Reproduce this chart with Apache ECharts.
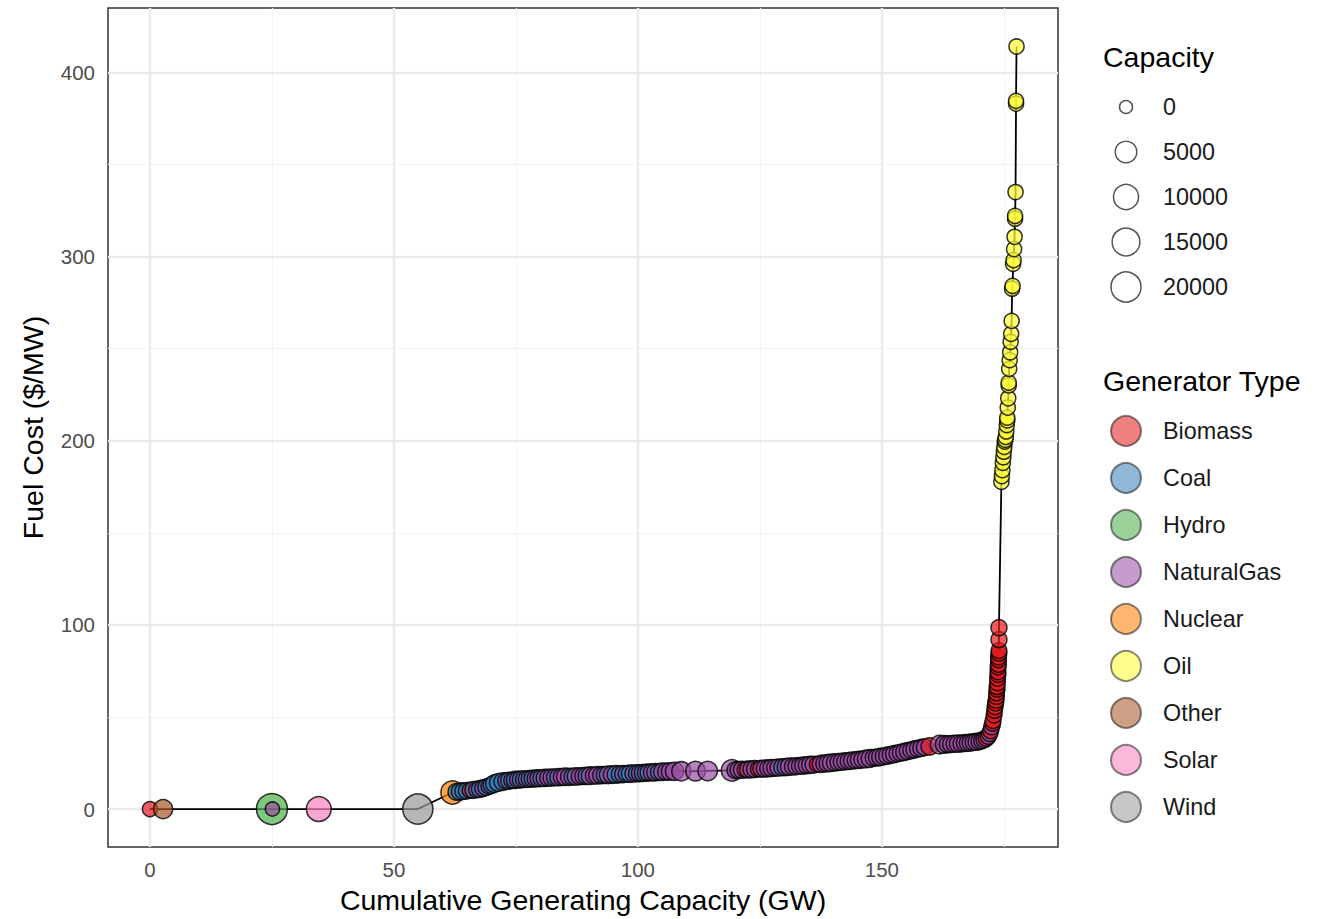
<!DOCTYPE html>
<html>
<head>
<meta charset="utf-8">
<script src="https://cdn.jsdelivr.net/npm/echarts@6/dist/echarts.min.js"></script>
<style>
  html, body { margin: 0; padding: 0; background: #fff; }
  #chart { width: 1325px; height: 919px; }
</style>
</head>
<body>
<div id="chart"></div>
<script>
// merit order: each point = one generator, x = cumulative capacity (GW), y = fuel cost
const genTypes = ['Biomass', 'Coal', 'Hydro', 'NaturalGas', 'Nuclear', 'Oil', 'Other', 'Solar', 'Wind'];
const typeCode = { B: 'Biomass', C: 'Coal', H: 'Hydro', G: 'NaturalGas', N: 'Nuclear', O: 'Oil', T: 'Other', S: 'Solar', W: 'Wind' };

const cumGW = [
  0.0, 2.7, 25.0, 25.1, 34.6, 54.9, 62.0, 62.8, 63.5, 64.2,
  64.9, 65.6, 66.3, 67.0, 67.6, 68.3, 68.9, 69.5, 70.0, 70.6,
  71.4, 72.3, 73.0, 73.6, 74.2, 74.8, 75.4, 76.0, 76.6, 77.2,
  77.8, 78.4, 79.0, 79.6, 80.2, 80.9, 81.6, 82.3, 83.0, 83.7,
  84.4, 85.1, 85.9, 86.6, 87.3, 88.1, 88.8, 89.5, 90.2, 91.0,
  91.7, 92.5, 93.2, 93.9, 94.7, 95.5, 96.3, 97.0, 97.7, 98.4,
  99.1, 99.8, 100.4, 101.0, 101.6, 102.2, 102.9, 103.6, 104.3, 105.0,
  105.8, 106.6, 107.5, 108.9, 111.8, 114.3, 119.3, 120.0, 120.6, 121.3,
  122.0, 122.6, 123.3, 124.0, 124.7, 125.3, 126.0, 126.7, 127.4, 128.1,
  128.8, 129.6, 130.3, 131.0, 131.8, 132.5, 133.2, 133.9, 134.6, 135.3,
  136.0, 136.8, 137.5, 138.2, 138.9, 139.6, 140.4, 141.1, 141.8, 142.5,
  143.2, 143.9, 144.6, 145.3, 146.0, 146.8, 147.6, 148.3, 149.0, 149.7,
  150.4, 151.1, 151.8, 152.5, 153.2, 153.9, 154.6, 155.3, 156.0, 156.7,
  157.4, 158.1, 158.8, 159.8, 161.8, 162.8, 163.5, 164.2, 164.9, 165.6,
  166.3, 167.0, 167.6, 168.2, 168.8, 169.4, 170.0, 170.5, 171.0, 171.4,
  171.8, 172.1, 172.3, 172.5, 172.7, 172.8, 173.0, 173.1, 173.2, 173.3,
  173.4, 173.5, 173.5, 173.6, 173.6, 173.7, 173.7, 173.8, 173.8, 173.8,
  173.9, 173.9, 173.9, 174.0, 174.0, 174.0, 174.0, 174.5, 174.6, 174.7,
  174.8, 174.9, 175.0, 175.1, 175.2, 175.3, 175.4, 175.5, 175.6, 175.7,
  175.7, 175.8, 175.9, 176.0, 176.0, 176.1, 176.2, 176.3, 176.4, 176.5,
  176.6, 176.7, 176.8, 176.9, 177.0, 177.1, 177.2, 177.3, 177.3, 177.4,
  177.5, 177.5, 177.6
];

const fuelCost = [
  0, 0, 0, 0, 0, 0, 9.0, 9.3, 9.5, 9.7,
  9.9, 10.2, 10.4, 10.6, 10.9, 11.3, 11.8, 12.4, 13.0, 13.8,
  14.4, 14.9, 15.2, 15.4, 15.6, 15.8, 16.0, 16.1, 16.2, 16.3,
  16.4, 16.5, 16.6, 16.7, 16.8, 16.9, 17.0, 17.1, 17.2, 17.3,
  17.4, 17.5, 17.5, 17.6, 17.7, 17.8, 17.9, 18.0, 18.1, 18.2,
  18.3, 18.4, 18.5, 18.6, 18.7, 18.8, 18.9, 19.0, 19.1, 19.2,
  19.3, 19.4, 19.5, 19.6, 19.7, 19.8, 19.9, 20.0, 20.1, 20.2,
  20.3, 20.4, 20.5, 20.5, 20.6, 20.7, 21.0, 21.1, 21.2, 21.3,
  21.4, 21.5, 21.6, 21.7, 21.8, 21.9, 22.0, 22.1, 22.3, 22.4,
  22.5, 22.7, 22.8, 23.0, 23.1, 23.3, 23.4, 23.6, 23.8, 24.0,
  24.1, 24.3, 24.5, 24.7, 24.9, 25.1, 25.3, 25.5, 25.7, 25.9,
  26.1, 26.3, 26.5, 26.7, 26.9, 27.2, 27.5, 27.8, 28.0, 28.3,
  28.6, 29.0, 29.4, 29.8, 30.2, 30.6, 31.0, 31.5, 31.9, 32.4,
  32.8, 33.2, 33.6, 34.0, 35.0, 35.1, 35.2, 35.3, 35.4, 35.5,
  35.6, 35.8, 35.9, 36.1, 36.3, 36.5, 36.8, 37.2, 37.8, 38.5,
  39.5, 41.0, 42.5, 44.7, 46.5, 48.0, 51.0, 53.5, 55.5, 57.5,
  59.0, 61.0, 63.0, 65.0, 66.4, 68.5, 71.0, 73.0, 74.5, 77.0,
  78.5, 81.0, 82.5, 84.5, 86.0, 92.0, 98.5, 177.7, 180.8, 184.0,
  188.0, 191.0, 194.0, 196.6, 199.5, 200.5, 202.0, 205.0, 208.5, 211.0,
  212.5, 218.0, 223.0, 230.0, 231.5, 239.0, 243.7, 248.0, 253.7, 258.0,
  265.0, 282.5, 284.0, 296.0, 298.0, 304.0, 310.7, 320.5, 322.0, 335.0,
  383.0, 384.5, 414.0
];

const capMW = [
  300, 2500, 22300, 100, 9500, 20300, 7100, 900, 1000, 900,
  800, 500, 1000, 700, 900, 900, 800, 600, 900, 1400,
  1500, 1400, 900, 1000, 700, 1100, 900, 1000, 800, 900,
  900, 900, 900, 1000, 900, 1100, 1000, 1100, 1000, 1100,
  1000, 1300, 1100, 1000, 1300, 1100, 1000, 1100, 1400, 1100,
  1300, 1100, 1000, 1400, 1300, 1400, 1100, 1100, 1000, 1300,
  1100, 1000, 1000, 1000, 900, 1100, 1100, 1300, 1000, 1300,
  1100, 1400, 1800, 2600, 3000, 2800, 4800, 1000, 900, 1000,
  600, 1000, 1100, 1000, 600, 900, 1100, 1000, 1100, 900,
  1000, 1100, 1100, 1300, 1100, 1000, 900, 1100, 1000, 1100,
  1000, 600, 1100, 1000, 1100, 1300, 1100, 1000, 1100, 1000,
  1000, 1100, 900, 1100, 1000, 1400, 1600, 900, 1000, 1300,
  1000, 1100, 1000, 1100, 900, 1000, 1100, 1000, 900, 1100,
  1000, 1100, 900, 1300, 2000, 1500, 1000, 1100, 1000, 1100,
  900, 1000, 900, 1000, 900, 1000, 900, 700, 900, 700,
  600, 600, 500, 600, 500, 500, 500, 450, 500, 450,
  500, 450, 450, 500, 450, 450, 500, 450, 500, 450,
  500, 450, 500, 450, 500, 600, 600, 300, 300, 300,
  300, 300, 300, 300, 300, 300, 300, 300, 300, 300,
  300, 300, 300, 300, 300, 300, 300, 300, 300, 300,
  300, 300, 300, 300, 300, 300, 300, 300, 300, 300,
  300, 300, 300
];

const genType = [
  'B', 'T', 'H', 'G', 'S', 'W', 'N', 'C', 'C', 'C',
  'C', 'B', 'C', 'G', 'C', 'G', 'C', 'G', 'C', 'C',
  'C', 'C', 'G', 'C', 'G', 'C', 'G', 'C', 'G', 'C',
  'G', 'C', 'G', 'G', 'C', 'G', 'G', 'G', 'C', 'G',
  'G', 'G', 'G', 'C', 'G', 'G', 'G', 'C', 'G', 'G',
  'G', 'G', 'C', 'G', 'G', 'C', 'C', 'G', 'C', 'C',
  'G', 'C', 'G', 'C', 'G', 'C', 'G', 'G', 'C', 'G',
  'G', 'G', 'G', 'G', 'G', 'G', 'G', 'G', 'G', 'G',
  'B', 'G', 'G', 'G', 'B', 'G', 'G', 'G', 'G', 'G',
  'G', 'C', 'G', 'G', 'G', 'G', 'G', 'G', 'G', 'G',
  'G', 'B', 'G', 'G', 'G', 'G', 'G', 'G', 'G', 'G',
  'G', 'G', 'G', 'G', 'G', 'G', 'G', 'G', 'G', 'G',
  'G', 'G', 'G', 'G', 'G', 'G', 'G', 'G', 'G', 'G',
  'G', 'G', 'G', 'B', 'G', 'G', 'G', 'G', 'G', 'G',
  'G', 'G', 'G', 'G', 'G', 'G', 'G', 'G', 'G', 'B',
  'G', 'G', 'B', 'G', 'B', 'B', 'B', 'B', 'B', 'B',
  'B', 'B', 'B', 'B', 'B', 'B', 'B', 'B', 'B', 'B',
  'B', 'B', 'B', 'B', 'B', 'B', 'B', 'O', 'O', 'O',
  'O', 'O', 'O', 'O', 'O', 'O', 'O', 'O', 'O', 'O',
  'O', 'O', 'O', 'O', 'O', 'O', 'O', 'O', 'O', 'O',
  'O', 'O', 'O', 'O', 'O', 'O', 'O', 'O', 'O', 'O',
  'O', 'O', 'O'
];

const xTicks = [0, 50, 100, 150];
const xMinor = [25, 75, 125, 175];
const yTicks = [0, 100, 200, 300, 400];
const yMinor = [50, 150, 250, 350];
const capLegend = [0, 5000, 10000, 15000, 20000];

// Set1 palette, alpha 0.7
const typeFill = {
  Biomass: 'rgba(228,26,28,0.7)',
  Coal: 'rgba(55,126,184,0.7)',
  Hydro: 'rgba(77,175,74,0.7)',
  NaturalGas: 'rgba(152,78,163,0.7)',
  Nuclear: 'rgba(255,127,0,0.7)',
  Oil: 'rgba(255,255,51,0.7)',
  Other: 'rgba(166,86,40,0.7)',
  Solar: 'rgba(247,129,191,0.7)',
  Wind: 'rgba(153,153,153,0.7)'
};
const stroke = 'rgba(0,0,0,0.8)';
const font = "'Liberation Sans', Arial, sans-serif";

function capSize(c) {
  return 13 + 17 * Math.sqrt(c / 20000);
}

let chart = echarts.init(document.getElementById('chart'), null, { renderer: 'svg' });

const points = cumGW.map((x, i) => ({
  value: [x, fuelCost[i], capMW[i]],
  itemStyle: { color: typeFill[typeCode[genType[i]]] }
}));

const minorStyle = { color: '#F2F2F2', width: 1.1, type: 'solid' };
const majorStyle = { color: '#EBEBEB', width: 2.4, type: 'solid' };
const gridLines = []
  .concat(xMinor.map(v => ({ xAxis: v, lineStyle: minorStyle })))
  .concat(yMinor.map(v => ({ yAxis: v, lineStyle: minorStyle })))
  .concat(xTicks.map(v => ({ xAxis: v, lineStyle: majorStyle })))
  .concat(yTicks.map(v => ({ yAxis: v, lineStyle: majorStyle })));

// size legend drawn by hand
const graphics = [
  { type: 'text', x: 1103, y: 57, style: { text: 'Capacity', fontSize: 28.5, fontFamily: font, fill: '#000', verticalAlign: 'middle' } },
  { type: 'text', x: 1103, y: 381, style: { text: 'Generator Type', fontSize: 28.5, fontFamily: font, fill: '#000', verticalAlign: 'middle' } }
];
capLegend.forEach((v, i) => {
  let cy = 107 + i * 45;
  graphics.push({ type: 'circle', shape: { cx: 1126, cy: cy, r: capSize(v) / 2 }, style: { fill: 'none', stroke: '#555', lineWidth: 1.5 } });
  graphics.push({ type: 'text', x: 1163, y: cy, style: { text: String(v), fontSize: 23.4, fontFamily: font, fill: '#1a1a1a', verticalAlign: 'middle' } });
});

chart.setOption({
  animation: false,
  grid: {
    left: 108, top: 8, right: 267, bottom: 72,
    show: true, borderColor: '#333', borderWidth: 1.5, backgroundColor: 'transparent'
  },
  xAxis: {
    type: 'value',
    min: -8.6, max: 186.1,
    name: 'Cumulative Generating Capacity (GW)',
    nameLocation: 'middle',
    nameGap: 38,
    nameTextStyle: { fontSize: 28.5, color: '#000', fontFamily: font },
    axisLine: { show: false },
    splitLine: { show: false },
    axisTick: { show: true, length: 5, lineStyle: { color: '#333', width: 1.5 }, customValues: xTicks },
    axisLabel: {
      customValues: xTicks,
      color: '#4d4d4d', fontSize: 20.5, fontFamily: font, margin: 12,
      formatter: v => (xTicks.includes(v) ? String(v) : '')
    }
  },
  yAxis: {
    type: 'value',
    min: -20.6, max: 434.9,
    name: 'Fuel Cost ($/MW)',
    nameLocation: 'middle',
    nameGap: 61,
    nameTextStyle: { fontSize: 28.5, color: '#000', fontFamily: font },
    axisLine: { show: false },
    splitLine: { show: false },
    axisTick: { show: true, length: 5, lineStyle: { color: '#333', width: 1.5 }, customValues: yTicks },
    axisLabel: {
      customValues: yTicks,
      color: '#4d4d4d', fontSize: 20.5, fontFamily: font, margin: 13,
      formatter: v => (yTicks.includes(v) ? String(v) : '')
    }
  },
  legend: {
    orient: 'vertical',
    left: 1110, top: 415,
    padding: 0,
    itemWidth: 64, itemHeight: 30, itemGap: 15,
    icon: 'circle',
    selectedMode: false,
    data: genTypes,
    textStyle: { fontSize: 23.4, lineHeight: 30, color: '#1a1a1a', fontFamily: font }
  },
  graphic: graphics,
  series: [
    {
      type: 'line', data: [], z: 1, silent: true,
      markLine: { z: 1, silent: true, symbol: ['none', 'none'], label: { show: false }, animation: false, lineStyle: { type: 'solid' }, data: gridLines }
    },
    {
      type: 'line', z: 2, silent: true,
      data: cumGW.map((x, i) => [x, fuelCost[i]]),
      showSymbol: false, symbol: 'none',
      lineStyle: { color: '#000', width: 1.8 }
    },
    {
      type: 'scatter', z: 3,
      data: points,
      symbolSize: val => capSize(val[2]),
      itemStyle: { borderColor: stroke, borderWidth: 1.5, opacity: 1 }
    }
  ].concat(genTypes.map(name => ({
    name: name, type: 'scatter', data: [],
    itemStyle: { color: typeFill[name], borderColor: 'rgba(0,0,0,0.6)', borderWidth: 1.5 }
  })))
});
</script>
</body>
</html>
